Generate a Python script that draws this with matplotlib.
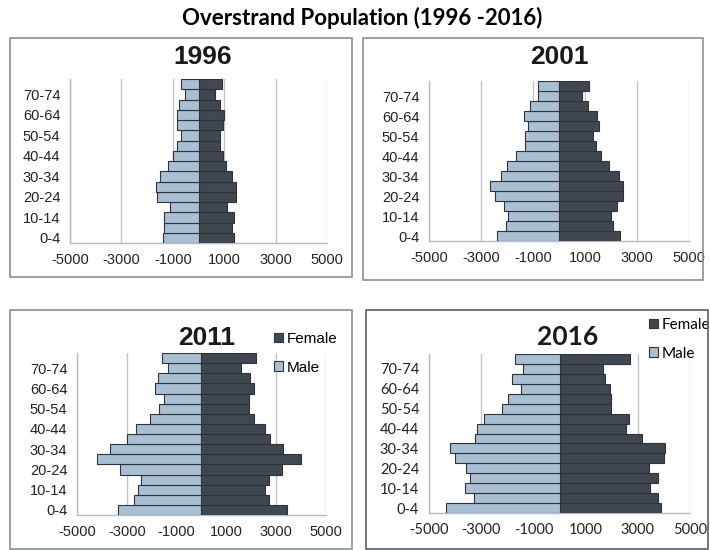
import numpy as np
import matplotlib
matplotlib.use("Agg")
import matplotlib.pyplot as plt
from matplotlib.patches import Rectangle

age_groups = ["0-4", "5-9", "10-14", "15-19", "20-24", "25-29", "30-34", "35-39",
              "40-44", "45-49", "50-54", "55-59", "60-64", "65-69", "70-74", "75+"]

male_1996 = [1400, 1350, 1350, 1090, 1600, 1660, 1480, 1200, 1000, 845, 700, 820, 845, 770, 520, 700]
female_1996 = [1370, 1300, 1370, 1100, 1460, 1460, 1310, 1070, 950, 830, 830, 950, 980, 850, 650, 910]

male_2001 = [2380, 2040, 1950, 2110, 2450, 2650, 2220, 1990, 1650, 1290, 1290, 1180, 1340, 1110, 800, 820]
female_2001 = [2330, 2090, 1990, 2220, 2480, 2480, 2310, 1920, 1610, 1410, 1320, 1530, 1450, 1130, 890, 1170]

male_2011 = [3370, 2730, 2550, 2430, 3290, 4200, 3690, 3010, 2630, 2050, 1710, 1520, 1850, 1740, 1360, 1600]
female_2011 = [3420, 2700, 2550, 2700, 3220, 4010, 3290, 2750, 2550, 2100, 1910, 1910, 2100, 1940, 1580, 2170]

male_2016 = [4330, 3280, 3630, 3420, 3600, 4010, 4210, 3220, 3180, 2910, 2210, 1990, 1480, 1830, 1390, 1690]
female_2016 = [3880, 3770, 3470, 3780, 3410, 4020, 4060, 3180, 2530, 2670, 1970, 1980, 1920, 1760, 1670, 2720]

years = ["1996", "2001", "2011", "2016"]
x_ticks = [-5000, -3000, -1000, 1000, 3000, 5000]

MALE_C = "#a9bfd4"
FEMALE_C = "#3f4850"
EDGE_C = "#2e3338"
GRID_C = "#c0c6cc"

W, H = 710, 550
fig = plt.figure(figsize=(W / 100, H / 100), dpi=100)


def px_rect(x0, y0, x1, y1):
    return [x0 / W, 1 - y1 / H, (x1 - x0) / W, (y1 - y0) / H]


# panel frames
frames = [(10, 38, 352, 277, "#8a9097"), (363, 38, 703, 280, "#8a9097"),
          (10, 310, 352, 549, "#8a9097"), (366, 310, 708, 549, "#5a5f64")]
for x0, y0, x1, y1, c in frames:
    fig.patches.append(Rectangle((x0 / W, 1 - y1 / H), (x1 - x0) / W, (y1 - y0) / H,
                                 transform=fig.transFigure, fill=False,
                                 edgecolor=c, linewidth=1.2))

fig.text(362 / W, 1 - 18 / H, "Overstrand Population (1996 -2016)", ha="center", va="center",
         fontsize=16, family="Lato", fontweight="bold")

axes_px = [(70, 79, 327, 243), (429, 81, 689, 241), (77, 353, 326, 515), (429, 354, 690, 513)]
title_px = [(203, 57), (559, 57), (207, 338), (568, 337)]
legend_px = [None, None, (274, 332), (649, 318)]
fonts = ["Liberation Sans", "Liberation Sans", "Liberation Sans", "Lato"]
data = [(male_1996, female_1996), (male_2001, female_2001),
        (male_2011, female_2011), (male_2016, female_2016)]

y = np.arange(len(age_groups))
for i, (male, female) in enumerate(data):
    ax = fig.add_axes(px_rect(*axes_px[i]))
    font = fonts[i]
    ax.barh(y, female, height=1.0, color=FEMALE_C, edgecolor=EDGE_C, linewidth=0.8,
            label="Female", zorder=3)
    ax.barh(y, [-v for v in male], height=1.0, color=MALE_C, edgecolor=EDGE_C, linewidth=0.8,
            label="Male", zorder=3)
    ax.set_xlim(-5000, 5000)
    ax.set_ylim(-0.5, len(age_groups) - 0.5)
    ax.set_xticks(x_ticks)
    ax.set_xticklabels([str(t) for t in x_ticks], family=font, fontsize=10.5, color="#222222")
    ax.set_yticks(y[::2])
    ax.set_yticklabels(age_groups[::2], family=font, fontsize=10.5, color="#222222")
    ax.tick_params(length=0, pad=7)
    ax.grid(axis="x", color=GRID_C, linewidth=1.0, zorder=0)
    for s in ["top", "right"]:
        ax.spines[s].set_visible(False)
    for s in ["left", "bottom"]:
        ax.spines[s].set_color("#b5bcc3")
        ax.spines[s].set_linewidth(1.0)

    tx, ty = title_px[i]
    fig.text(tx / W, 1 - ty / H, years[i], ha="center", va="center", fontsize=19,
             fontweight="bold", family=font, color="#1a1a1a")

    if legend_px[i] is not None:
        lx, ly = legend_px[i]
        leg = ax.legend(loc="upper left", bbox_to_anchor=(lx / W, 1 - ly / H),
                        bbox_transform=fig.transFigure, frameon=False,
                        prop={"family": font, "size": 11},
                        handlelength=0.6, handleheight=0.6, handletextpad=0.25,
                        labelspacing=0.95, borderpad=0, borderaxespad=0)
        for h in leg.legend_handles:
            h.set_edgecolor(EDGE_C)

fig.savefig("out.png", dpi=100)
